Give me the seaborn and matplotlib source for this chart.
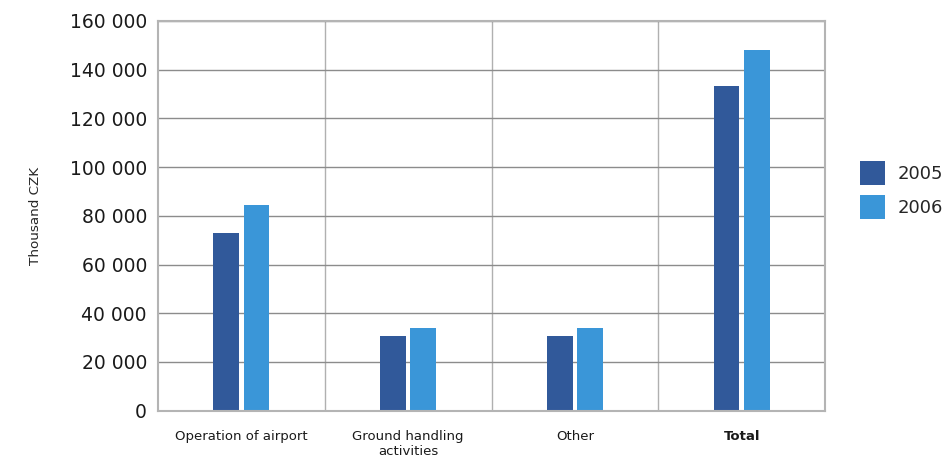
import matplotlib
matplotlib.use("Agg")
import matplotlib.pyplot as plt
import seaborn as sns
import pandas as pd
from matplotlib.ticker import FuncFormatter

categories = ["Operation of airport", "Ground handling\nactivities", "Other", "Total"]
years = ["2005", "2006"]
values_2005 = [73000, 30700, 30700, 133300]
values_2006 = [84500, 34000, 34000, 148100]

df = pd.DataFrame({
    "category": categories * 2,
    "year": [years[0]] * 4 + [years[1]] * 4,
    "value": values_2005 + values_2006,
})

sns.set_theme(style="white")
plt.rcParams["font.family"] = ["DejaVu Sans"]

fig = plt.figure(figsize=(9.48, 4.57), dpi=100)
ax = fig.add_axes([158 / 948, 1 - 410.7 / 457, (825 - 158) / 948, (410.7 - 21) / 457])

sns.barplot(data=df, x="category", y="value", hue="year",
            palette=["#31599A", "#3A96D8"], width=0.362, gap=0.15,
            saturation=1, linewidth=0, ax=ax)

ax.set_ylim(0, 160000)
ax.set_xlim(-0.5, 3.5)
ax.set_yticks(range(0, 160001, 20000))
ax.yaxis.set_major_formatter(FuncFormatter(lambda v, p: f"{int(v):,}".replace(",", " ")))
ax.tick_params(axis="y", labelsize=13.5, length=0, pad=8, colors="#1a1a1a")
ax.tick_params(axis="x", labelsize=9.5, length=0, pad=14, colors="#1a1a1a")
ax.set_xlabel("")
ax.set_ylabel("Thousand CZK", fontsize=9.7, labelpad=20)
ax.get_xticklabels()[3].set_fontweight("bold")

ax.set_xticks([0.5, 1.5, 2.5], minor=True)
ax.grid(axis="y", which="major", color="#8c8c8c", linewidth=1)
ax.grid(axis="x", which="minor", color="#b0b0b0", linewidth=1)
ax.grid(axis="x", which="major", visible=False)
ax.set_axisbelow(True)
for s in ax.spines.values():
    s.set_color("#b4b4b4")
    s.set_linewidth(1.5)

leg = ax.legend(loc="center left", bbox_to_anchor=(1.0525, 0.566), frameon=False,
                fontsize=13, handlelength=1.4, handleheight=1.7,
                handletextpad=0.7, labelspacing=0.55, title=None,
                borderaxespad=0, borderpad=0)

fig.savefig("out.png", dpi=100)
